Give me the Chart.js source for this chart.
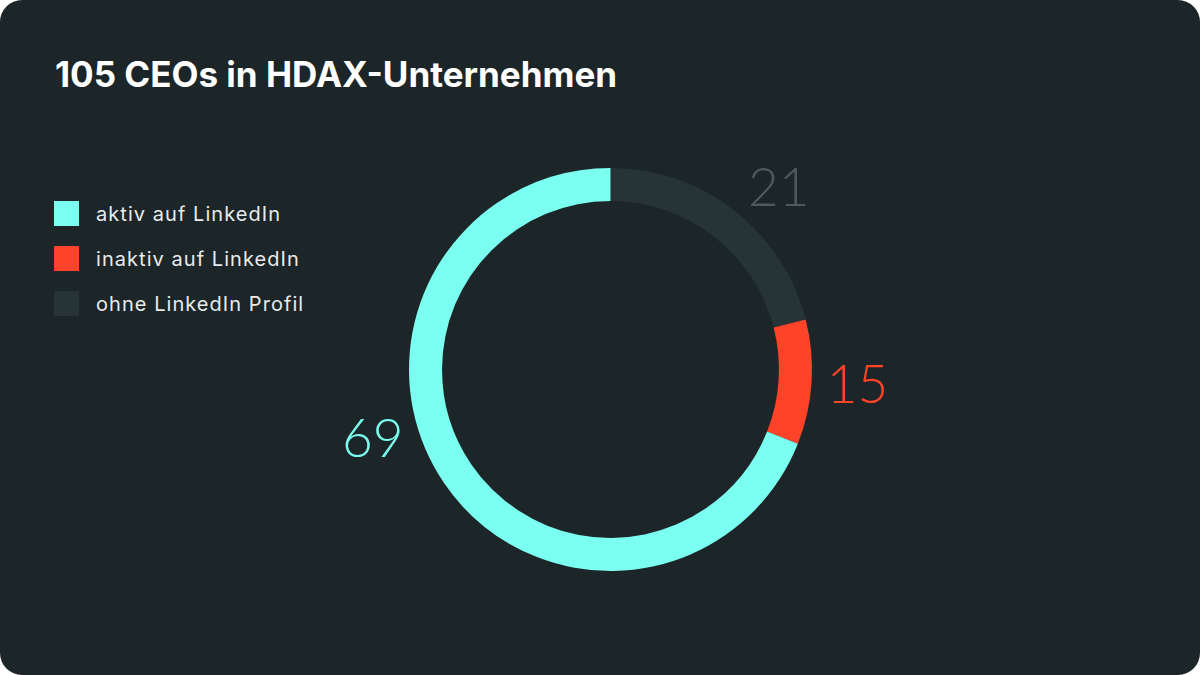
<!DOCTYPE html>
<html lang="de">
<head>
    <meta charset="UTF-8">
    <title>105 CEOs in HDAX-Unternehmen</title>
    <script src="https://cdn.jsdelivr.net/npm/chart.js@4"></script>
    <style>
        html, body {
            margin: 0;
            padding: 0;
            background-color: #ffffff;
        }

        #card {
            position: relative;
            width: 1200px;
            height: 675px;
            background-color: #1c2527;
            border-radius: 22px;
            overflow: hidden;
            font-family: Inter, Lato, sans-serif;
        }

        #title {
            position: absolute;
            left: 55px;
            top: 57px;
            margin: 0;
            font-size: 35px;
            line-height: 34px;
            font-weight: 700;
            color: #ffffff;
        }

        #legend {
            position: absolute;
            left: 54px;
            top: 201px;
            margin: 0;
            padding: 0;
            list-style: none;
        }

        #legend li {
            display: flex;
            align-items: center;
            height: 25px;
            margin-bottom: 20px;
            font-size: 20px;
            font-weight: 400;
            letter-spacing: 1.05px;
            color: #e8ebeb;
        }

        #legend .box {
            width: 25px;
            height: 25px;
            margin-right: 17px;
        }

        canvas {
            position: absolute;
            left: 0;
            top: 0;
        }
    </style>
</head>
<body>
    <div id="card">
        <h1 id="title">105 CEOs in HDAX-Unternehmen</h1>
        <ul id="legend"></ul>
        <canvas id="donut" width="1200" height="675"></canvas>
    </div>

    <script>
        // Reihenfolge im Uhrzeigersinn ab 12 Uhr
        const categories = ['ohne LinkedIn Profil', 'inaktiv auf LinkedIn', 'aktiv auf LinkedIn'];
        // Anteile, wie sie im Ring gezeichnet sind (ca. 21 % / 10 % / 69 %)
        const arcShares = [21, 10, 69];
        // die beschrifteten Zahlen
        const labelValues = [21, 15, 69];

        const segmentColors = ['#263436', '#ff4328', '#7afff0'];
        const labelColors = ['#4d595b', '#ff4328', '#7afff0'];
        // kleine Verschiebung der Zahlen gegenueber der Segmentmitte (Grad)
        const labelNudge = [5, 0, 18];

        // Zahlen außerhalb des Rings
        const outerValues = {
            id: 'outerValues',
            afterDatasetsDraw(chart) {
                const ctx = chart.ctx;
                const meta = chart.getDatasetMeta(0);
                ctx.save();
                ctx.font = '300 53px Lato, sans-serif';
                ctx.textAlign = 'center';
                ctx.textBaseline = 'alphabetic';
                meta.data.forEach((arc, i) => {
                    const p = arc.getProps(['x', 'y', 'startAngle', 'endAngle', 'outerRadius'], true);
                    const mid = (p.startAngle + p.endAngle) / 2 + labelNudge[i] * Math.PI / 180;
                    const r = p.outerRadius + 46;
                    const x = p.x + Math.cos(mid) * r;
                    const y = p.y + Math.sin(mid) * r;
                    ctx.fillStyle = labelColors[i];
                    ctx.fillText(String(labelValues[i]), x, y + 18);
                });
                ctx.restore();
            }
        };

        const chart = new Chart(document.getElementById('donut'), {
            type: 'doughnut',
            data: {
                labels: categories,
                datasets: [{
                    data: arcShares,
                    backgroundColor: segmentColors,
                    borderWidth: 0
                }]
            },
            options: {
                responsive: false,
                animation: false,
                cutout: '83.6%',
                layout: {
                    padding: { left: 409, right: 388, top: 168, bottom: 104 }
                },
                plugins: {
                    legend: { display: false },
                    tooltip: { enabled: false }
                }
            },
            plugins: [outerValues]
        });

        // Legende aus den Legendeneintraegen der Bibliothek, aktiv zuerst
        const items = chart.options.plugins.legend.labels.generateLabels(chart).reverse();
        const list = document.getElementById('legend');
        items.forEach(item => {
            const li = document.createElement('li');
            const box = document.createElement('span');
            box.className = 'box';
            box.style.backgroundColor = item.fillStyle;
            li.appendChild(box);
            li.appendChild(document.createTextNode(item.text));
            list.appendChild(li);
        });
    </script>
</body>
</html>
